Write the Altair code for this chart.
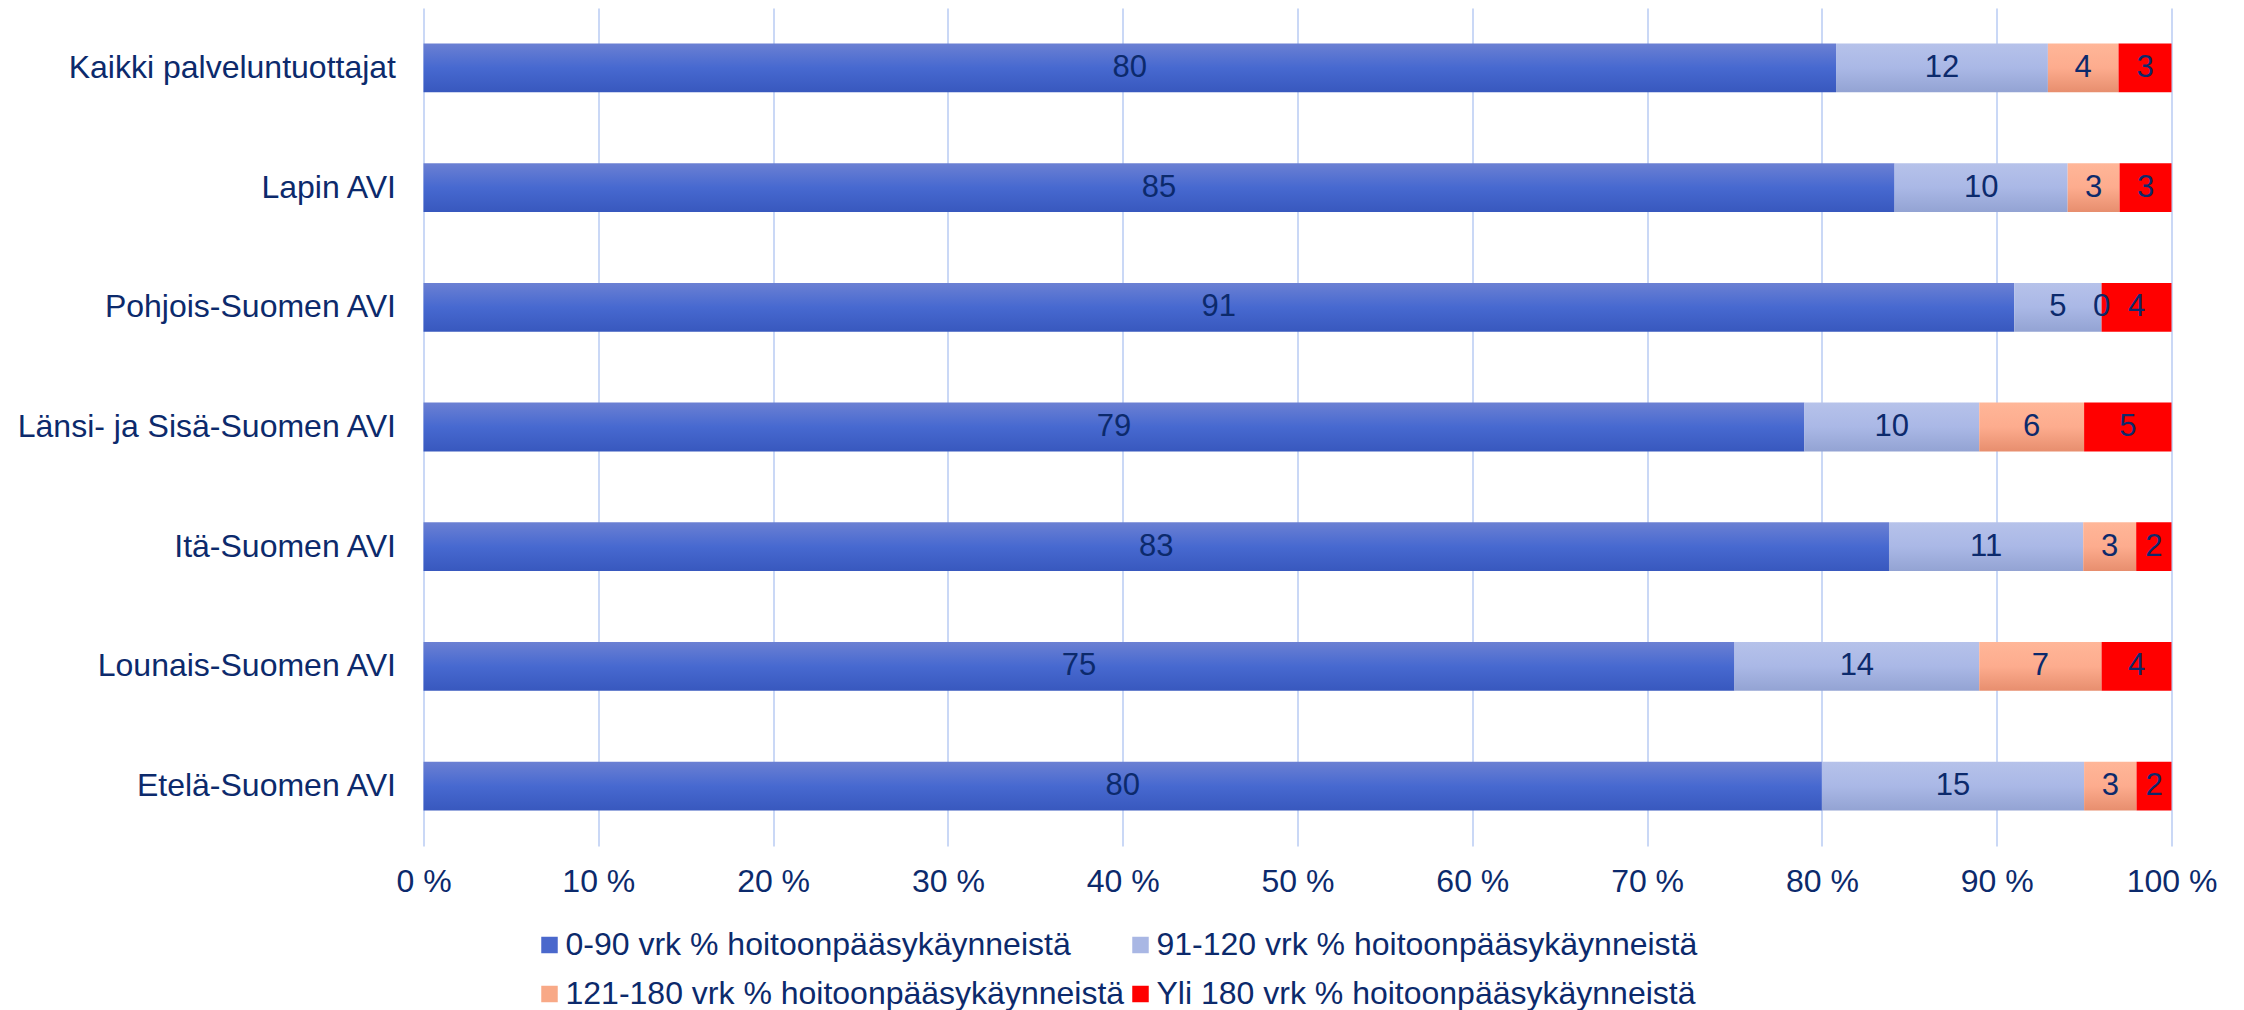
import altair as alt
import pandas as pd

# ---- data ----
categories = [
    "Kaikki palveluntuottajat",
    "Lapin AVI",
    "Pohjois-Suomen AVI",
    "Länsi- ja Sisä-Suomen AVI",
    "Itä-Suomen AVI",
    "Lounais-Suomen AVI",
    "Etelä-Suomen AVI",
]
series = [
    "0-90 vrk % hoitoonpääsykäynneistä",
    "91-120 vrk % hoitoonpääsykäynneistä",
    "121-180 vrk % hoitoonpääsykäynneistä",
    "Yli 180 vrk % hoitoonpääsykäynneistä",
]
v_0_90 = [80, 85, 91, 79, 83, 75, 80]
v_91_120 = [12, 10, 5, 10, 11, 14, 15]
v_121_180 = [4, 3, 0, 6, 3, 7, 3]
v_yli_180 = [3, 3, 4, 5, 2, 4, 2]
x_ticks = [0, 0.1, 0.2, 0.3, 0.4, 0.5, 0.6, 0.7, 0.8, 0.9, 1.0]

# ---- styling ----
FONT = "Liberation Sans, Arial, sans-serif"
NAVY = "#0c2a6c"
solid_colors = ["#4a68cc", "#a9b7e4", "#f8a987", "#ff0000"]
gradients = [
    [("#6b80d3", 0), ("#4769d0", 0.5), ("#3858be", 1)],
    [("#b6c2ea", 0), ("#aab8e6", 0.5), ("#93a3d3", 1)],
    [("#ffb698", 0), ("#fdac8e", 0.5), ("#e78e6e", 1)],
    [("#ff0000", 0), ("#ff0000", 1)],
]

rows = []
for vals, s_idx in zip([v_0_90, v_91_120, v_121_180, v_yli_180], range(4)):
    for cat, v in zip(categories, vals):
        rows.append({"category": cat, "series": series[s_idx], "order": s_idx, "value": v})
df = pd.DataFrame(rows)

y_enc = alt.Y(
    "category:N",
    sort=categories,
    scale=alt.Scale(paddingInner=0.5925, paddingOuter=0.29625),
    axis=alt.Axis(
        title=None, labelFontSize=32, labelFont=FONT, labelColor=NAVY,
        labelLimit=0, labelPadding=28, ticks=False, domain=False, grid=False,
    ),
)
x_scale = alt.Scale(domain=[0, 1], nice=False, zero=True)
x_axis = alt.Axis(
    title=None, values=x_ticks, labelExpr="format(datum.value*100, 'd') + ' %'",
    labelFontSize=32, labelFont=FONT, labelColor=NAVY, labelPadding=20,
    grid=True, gridColor="#cad8f6", gridWidth=2, ticks=False, domain=False,
    labelFlush=False,
)

layers = []
for i, s in enumerate(series):
    grad = {
        "gradient": "linear", "x1": 0, "y1": 0, "x2": 0, "y2": 1,
        "stops": [{"offset": o, "color": c} for c, o in gradients[i]],
    }
    layers.append(
        alt.Chart()
        .mark_bar(fill=grad, strokeWidth=0)
        .encode(
            y=y_enc,
            x=alt.X("x0:Q", scale=x_scale, axis=x_axis),
            x2="x1:Q",
        )
        .transform_filter(alt.datum.series == s)
    )

legend_layer = alt.Chart().mark_square(opacity=0, size=1).encode(
    y=y_enc,
    x=alt.X("xm:Q", scale=x_scale, axis=x_axis),
    color=alt.Color(
        "series:N",
        sort=series,
        scale=alt.Scale(domain=series, range=solid_colors),
        legend=alt.Legend(
            title=None, orient="none", direction="horizontal",
            legendX=110, legendY=921, columns=2,
            symbolType="square", symbolSize=272, symbolOpacity=1, symbolStrokeWidth=0,
            labelFontSize=32, labelFont=FONT, labelColor=NAVY, labelLimit=0,
            labelOffset=0, columnPadding=0, rowPadding=17, padding=0,
        ),
    ),
)

text_layer = alt.Chart().mark_text(
    fontSize=31, font=FONT, color=NAVY, baseline="middle", align="center"
).encode(
    y=y_enc,
    x=alt.X("xm:Q", scale=x_scale, axis=x_axis),
    text=alt.Text("value:Q", format="d"),
)

chart = (
    alt.layer(*layers, legend_layer, text_layer, data=df)
    .transform_stack(
        stack="value", groupby=["category"], as_=["x0", "x1"],
        offset="normalize", sort=[alt.SortField("order", order="ascending")],
    )
    .transform_calculate(xm="(datum.x0 + datum.x1) / 2")
    .properties(
        width=1748, height=838,
        autosize=alt.AutoSizeParams(type="none"),
        padding={"left": 415.5, "top": 0, "right": 64, "bottom": 172},
        background="white",
    )
    .configure_view(stroke=None)
)

chart.save("out.html", embed_options={"renderer": "svg", "actions": False})
